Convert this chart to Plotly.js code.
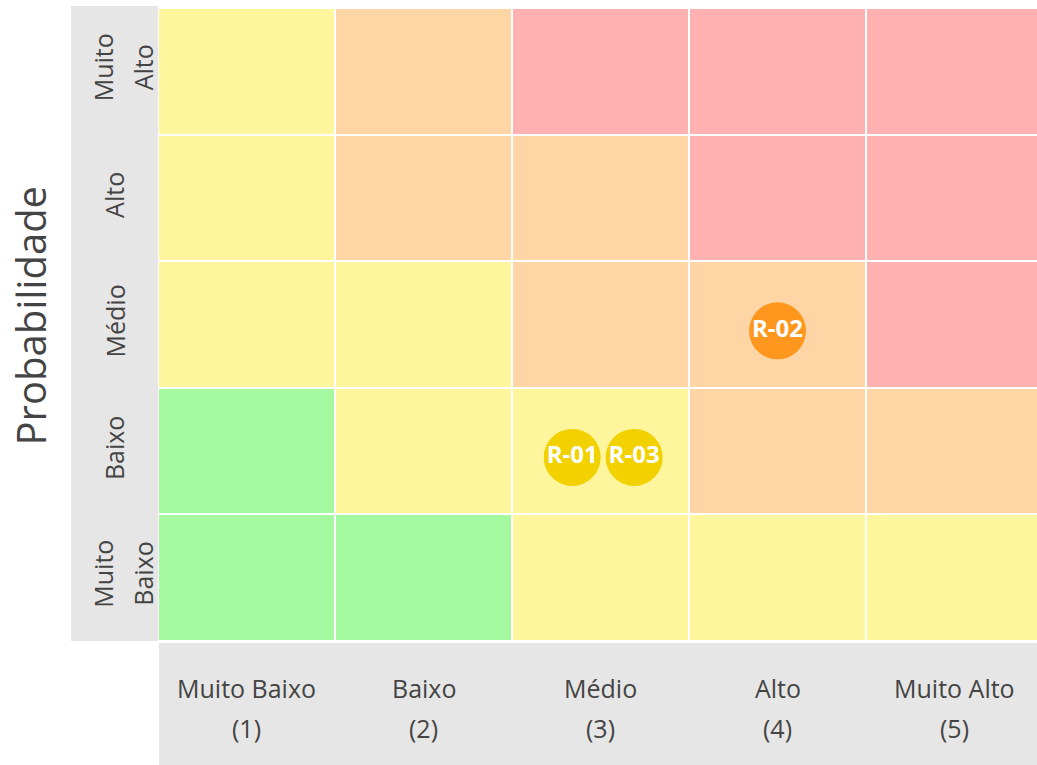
<!DOCTYPE html>
<html><head><meta charset="utf-8">
<script src="https://cdn.plot.ly/plotly-3.0.1.min.js"></script>
<style>html,body{margin:0;padding:0;overflow:hidden;background:#fff}</style>
</head><body><div id="chart"></div>
<script>
// ---- data ----
const xLabels = ['Muito Baixo','Baixo','Médio','Alto','Muito Alto'];
const xNumbers = ['(1)','(2)','(3)','(4)','(5)'];
const yLines = [['Muito','Baixo'],['Baixo'],['Médio'],['Alto'],['Muito','Alto']];
const impactValues = [1,2,3,4,5];
const probValues = [1,2,3,4,5];
// risk level per cell, rows from Muito Baixo (1) to Muito Alto (5)
const levels = [
  [1,1,2,2,2],
  [1,2,2,3,3],
  [2,2,3,3,4],
  [2,3,3,4,4],
  [2,3,4,4,4]
];
const levelColors = ['#A4F9A0','#FFF59D','#FFD5A5','#FFB0B0'];
const riskIds = ['R-01','R-02','R-03'];
const riskImpact = [2.84, 4.0, 3.19];
const riskProb = [1.95, 2.95, 1.95];
const riskColors = ['#F2D100','#FF971F','#F2D100'];

// ---- build ----
const n = levelColors.length;
const colorscale = [];
levelColors.forEach((c,i)=>{
  colorscale.push([i/n, c]);
  colorscale.push([(i+1)/n, c]);
});

const heat = {
  type:'heatmap', x:impactValues, y:probValues, z:levels,
  zmin:0.5, zmax:4.5, colorscale:colorscale, showscale:false,
  xgap:2, ygap:2, hoverinfo:'skip'
};
const risks = {
  type:'scatter', mode:'markers+text', x:riskImpact, y:riskProb, text:riskIds,
  marker:{size:57, color:riskColors, line:{width:0}},
  textposition:'middle center',
  textfont:{family:'Open Sans', size:24, color:'#ffffff', weight:700},
  hoverinfo:'text', cliponaxis:false
};

const labelFont = {family:'Open Sans', size:25, color:'#444'};
const annotations = [];
xLabels.forEach((t,i)=>{
  annotations.push({xref:'x', x:impactValues[i], yref:'paper', y:0, yanchor:'middle', xanchor:'center',
    yshift:-47, text:t, showarrow:false, font:labelFont});
  annotations.push({xref:'x', x:impactValues[i], yref:'paper', y:0, yanchor:'middle', xanchor:'center',
    yshift:-87, text:xNumbers[i], showarrow:false, font:labelFont});
});
yLines.forEach((lines,i)=>{
  const shifts = lines.length === 1 ? [-44] : [-55, -15];
  lines.forEach((t,j)=>{
    annotations.push({xref:'paper', x:0, yref:'y', y:probValues[i], xanchor:'center', yanchor:'middle',
      xshift:shifts[j], yshift: lines.length===1 ? 3 : 4, textangle:-90, text:t, showarrow:false,
      font:labelFont});
  });
});
annotations.push({xref:'paper', x:0, yref:'paper', y:0.5, xanchor:'center', yanchor:'middle',
  xshift:-128, yshift:9, textangle:-90, text:'Probabilidade', showarrow:false,
  font:{family:'Open Sans', size:40, color:'#444'}});

const layout = {
  width:1043, height:765,
  margin:{l:158, r:0, t:8, b:124},
  paper_bgcolor:'#ffffff', plot_bgcolor:'#ffffff',
  showlegend:false,
  xaxis:{range:[0.5,5.5], showticklabels:false, showgrid:false, zeroline:false, ticks:'', fixedrange:true},
  yaxis:{range:[0.5,5.5], showticklabels:false, showgrid:false, zeroline:false, ticks:'', fixedrange:true},
  shapes:[
    {type:'rect', xref:'paper', yref:'paper', x0:-87/885, x1:0, y0:0, y1:1+2/633,
     fillcolor:'#E6E6E6', line:{width:0}, layer:'below'},
    {type:'rect', xref:'paper', yref:'paper', x0:1/885, x1:1, y0:-124/633, y1:-2/633,
     fillcolor:'#E6E6E6', line:{width:0}, layer:'below'}
  ],
  annotations:annotations
};
Plotly.newPlot('chart', [heat, risks], layout, {displayModeBar:false, staticPlot:true});
</script></body></html>
